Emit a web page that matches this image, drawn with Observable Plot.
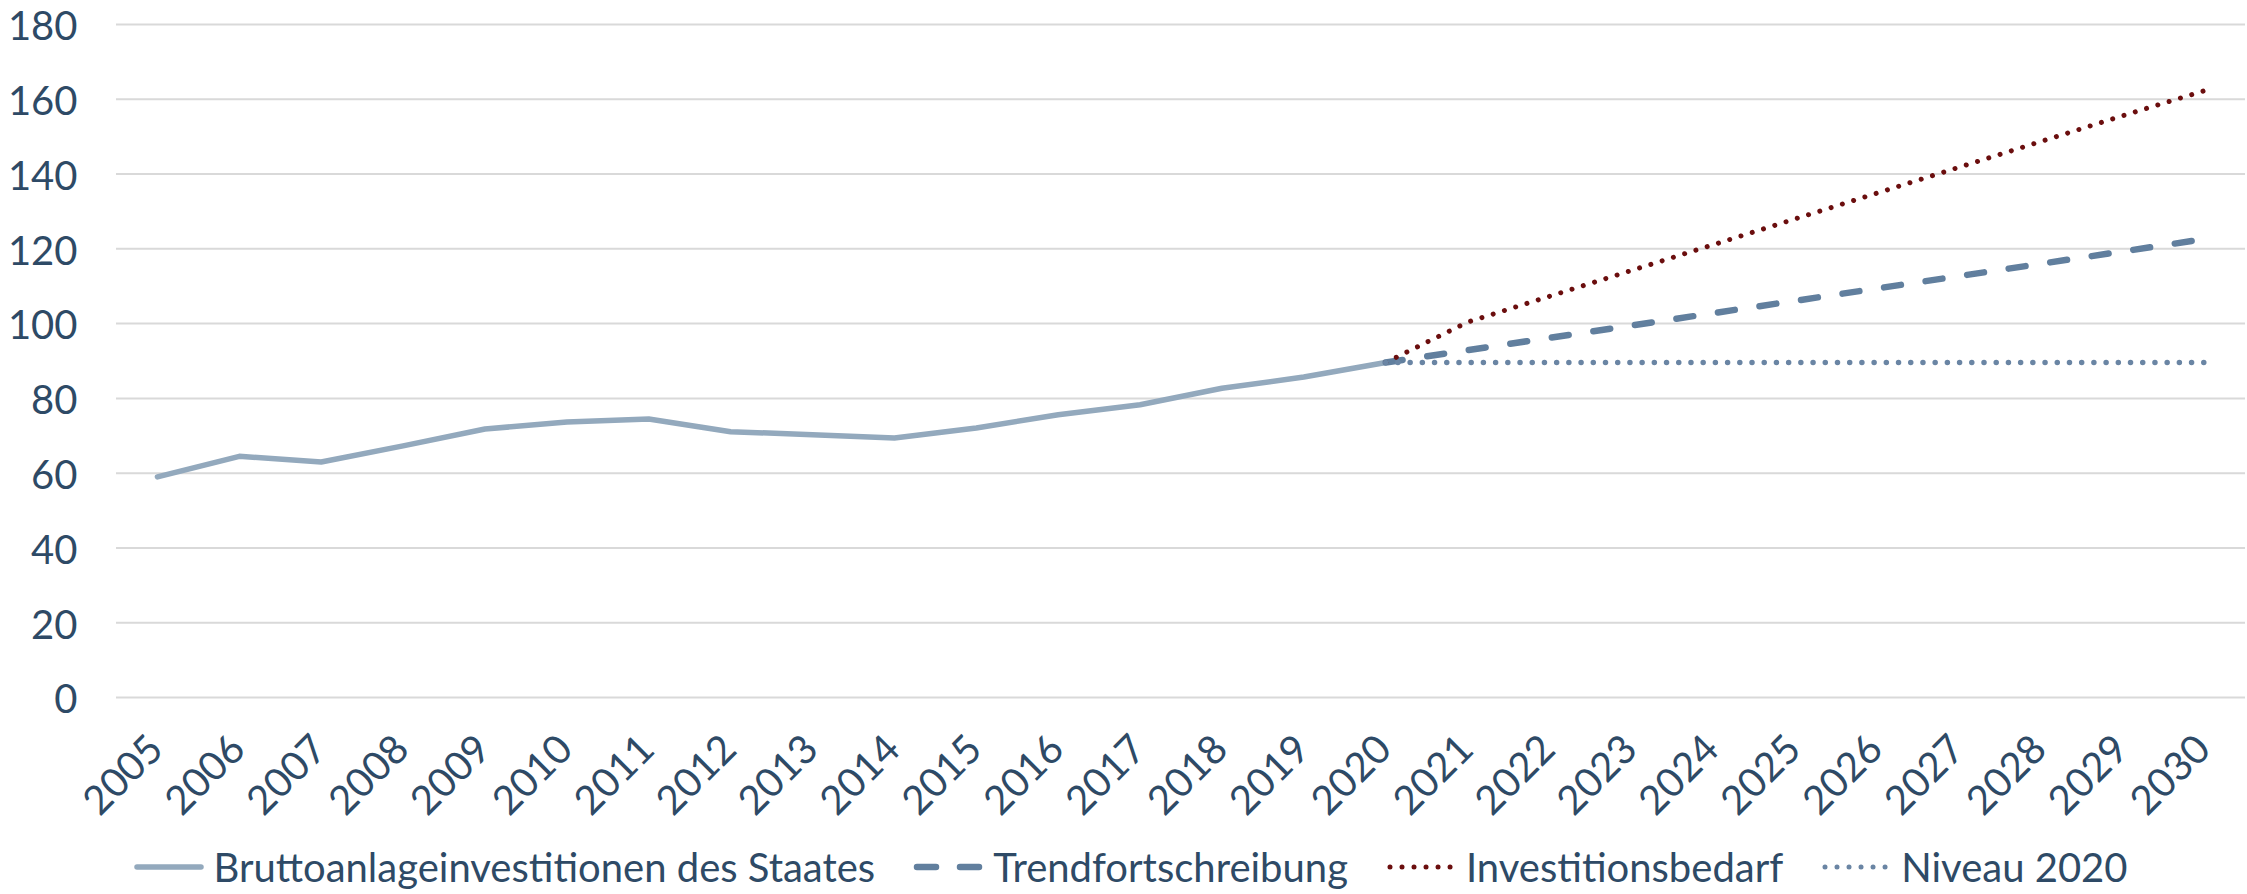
<!DOCTYPE html>
<html>
<head>
<meta charset="utf-8">
<script src="https://cdn.jsdelivr.net/npm/d3@7"></script>
<script src="https://cdn.jsdelivr.net/npm/@observablehq/plot@0.6"></script>
<style>
  body { margin: 0; background: #fff; }
  #wrap { width: 2247px; }
  #legend {
    display: flex; justify-content: center; align-items: center; padding-left: 14px;
    height: 54px; font-family: Lato, sans-serif; font-size: 40px; color: #2E4A66;
  }
  .item { display: flex; align-items: center; margin: 0 19px; }
  .item svg { margin-right: 8px; }
</style>
</head>
<body>
<div id="wrap"></div>
<script>
const years = [2005, 2006, 2007, 2008, 2009, 2010, 2011, 2012, 2013, 2014, 2015, 2016, 2017,
  2018, 2019, 2020, 2021, 2022, 2023, 2024, 2025, 2026, 2027, 2028, 2029, 2030];
const yearsHist = [2005, 2006, 2007, 2008, 2009, 2010, 2011, 2012, 2013, 2014, 2015, 2016, 2017, 2018, 2019, 2020];
const yearsProj = [2020, 2021, 2022, 2023, 2024, 2025, 2026, 2027, 2028, 2029, 2030];
const bruttoanlage = [59.0, 64.5, 63.0, 67.3, 71.8, 73.7, 74.5, 71.1, 70.3, 69.4, 72.1, 75.6, 78.3, 82.7, 85.7, 89.6];
const trend = [89.6, 92.9, 96.2, 99.5, 102.8, 106.1, 109.4, 112.7, 116.0, 119.3, 122.6];
const bedarf = [89.6, 100.4, 107.3, 114.2, 121.1, 128.0, 134.9, 141.8, 148.7, 155.6, 162.3];
const niveau = [89.6, 89.6, 89.6, 89.6, 89.6, 89.6, 89.6, 89.6, 89.6, 89.6, 89.6];
const yTicks = [0, 20, 40, 60, 80, 100, 120, 140, 160, 180];
const seriesNames = ["Bruttoanlageinvestitionen des Staates", "Trendfortschreibung", "Investitionsbedarf", "Niveau 2020"];

const colSolid = "#93A9BD", colTrend = "#617F9E", colBedarf = "#6B0E0E", colNiveau = "#6A85A4";
const textCol = "#2E4A66";

const hist = yearsHist.map((y, i) => ({year: y, value: bruttoanlage[i]}));
const tr = yearsProj.map((y, i) => ({year: y, value: trend[i]}));
const bd = yearsProj.map((y, i) => ({year: y, value: bedarf[i]}));
const nv = yearsProj.map((y, i) => ({year: y, value: niveau[i]}));

const chart = Plot.plot({
  width: 2247,
  height: 840,
  marginLeft: 116,
  marginRight: 2,
  marginTop: 24,
  marginBottom: 143,
  style: {fontFamily: "Lato, sans-serif", fontSize: "40px", color: textCol, background: "#fff"},
  x: {type: "point", domain: years, padding: 0.5, round: false, axis: null},
  y: {domain: [0, 180], ticks: yTicks, label: null},
  marks: [
    Plot.gridY(yTicks, {stroke: "#D9D9D9", strokeOpacity: 1, strokeWidth: 2}),
    Plot.axisY(yTicks, {tickSize: 0, tickPadding: 39, label: null, fontSize: 40, dy: 3}),
    Plot.text(years, {x: d => d, text: d => String(d), frameAnchor: "bottom", rotate: -45,
      textAnchor: "end", lineAnchor: "bottom", dy: 54, dx: 8, fill: textCol, fontSize: 40}),
    Plot.line(hist, {x: "year", y: "value", stroke: colSolid, strokeWidth: 5.5, strokeLinejoin: "round"}),
    Plot.line(tr, {x: "year", y: "value", stroke: colTrend, strokeWidth: 6.5, strokeDasharray: "17,25", strokeLinecap: "round"}),
    Plot.line(bd, {x: "year", y: "value", stroke: colBedarf, strokeWidth: 5, strokeDasharray: "0.01,11.8", strokeLinecap: "round"}),
    Plot.line(nv, {x: "year", y: "value", stroke: colNiveau, strokeWidth: 5.5, strokeDasharray: "0.01,12.2", strokeLinecap: "round"})
  ]
});

const wrap = document.getElementById("wrap");
wrap.appendChild(chart);

const legend = document.createElement("div");
legend.id = "legend";
const samples = [
  `<line x1="4" y1="10" x2="68" y2="10" stroke="${colSolid}" stroke-width="5.5" stroke-linecap="round"/>`,
  `<line x1="4" y1="10" x2="68" y2="10" stroke="${colTrend}" stroke-width="6.5" stroke-dasharray="19,24" stroke-linecap="round"/>`,
  `<line x1="4" y1="10" x2="68" y2="10" stroke="${colBedarf}" stroke-width="5" stroke-dasharray="0.01,12" stroke-linecap="round"/>`,
  `<line x1="4" y1="10" x2="68" y2="10" stroke="${colNiveau}" stroke-width="5" stroke-dasharray="0.01,12" stroke-linecap="round"/>`
];
seriesNames.forEach((name, i) => {
  const it = document.createElement("div");
  it.className = "item";
  it.innerHTML = `<svg width="72" height="20">${samples[i]}</svg><span>${name}</span>`;
  legend.appendChild(it);
});
wrap.appendChild(legend);
</script>
</body>
</html>
